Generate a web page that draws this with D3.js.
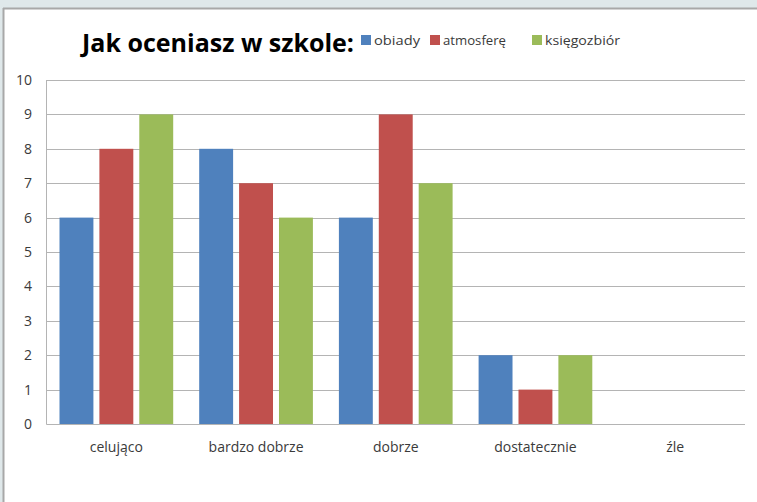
<!DOCTYPE html>
<html>
<head>
<meta charset="utf-8">
<script src="https://cdn.jsdelivr.net/npm/d3@7"></script>
<style>
  body { margin: 0; background: #dfe8ea; }
  svg { display: block; }
</style>
</head>
<body>
<div id="chartContainer"></div>
<script>
var width = 757, height = 502;

var categories = ["celująco", "bardzo dobrze", "dobrze", "dostatecznie", "źle"];
var seriesNames = ["obiady", "atmosferę", "księgozbiór"];
var obiady = [6, 8, 6, 2, 0];
var atmosfere = [8, 7, 9, 1, 0];
var ksiegozbior = [9, 6, 7, 2, 0];
var yTicks = [0, 1, 2, 3, 4, 5, 6, 7, 8, 9, 10];
var colors = ["#4f81bd", "#c0504d", "#9bbb59"];

var seriesValues = [obiady, atmosfere, ksiegozbior];

var svg = d3.select("#chartContainer").append("svg")
    .attr("width", width)
    .attr("height", height);

// frame like the slide panel
svg.append("rect").attr("x", 0).attr("y", 0).attr("width", width).attr("height", height).attr("fill", "#dfe8ea");
svg.append("rect").attr("x", 4).attr("y", 9).attr("width", width - 4).attr("height", height - 9).attr("fill", "#ffffff");
svg.append("line").attr("x1", 3.5).attr("x2", 3.5).attr("y1", 8).attr("y2", height).attr("stroke", "#a8a8a8").attr("stroke-width", 2);
svg.append("line").attr("x1", 3).attr("x2", width).attr("y1", 8.5).attr("y2", 8.5).attr("stroke", "#a8a8a8").attr("stroke-width", 2);

var plotLeft = 46.5, plotRight = 745, plotTop = 80, plotBottom = 424;

var x0 = d3.scaleBand().domain(categories).range([plotLeft, plotRight]).paddingInner(0).paddingOuter(0);
var x1 = d3.scaleBand().domain(seriesNames).range([13, x0.bandwidth() - 13]).paddingInner(0.15).paddingOuter(0);
var y = d3.scaleLinear().domain([0, 10]).range([plotBottom, plotTop]);

// gridlines
svg.append("g").selectAll("line")
    .data(yTicks)
    .enter().append("line")
    .attr("x1", plotLeft).attr("x2", plotRight)
    .attr("y1", function (d) { return Math.round(y(d)) + 0.5; })
    .attr("y2", function (d) { return Math.round(y(d)) + 0.5; })
    .attr("stroke", "#b4b4b4")
    .attr("stroke-width", 1);

// y axis line
svg.append("line").attr("x1", plotLeft).attr("x2", plotLeft).attr("y1", plotTop).attr("y2", plotBottom + 0.5)
    .attr("stroke", "#b4b4b4");

// bars
var groups = svg.append("g").selectAll("g")
    .data(categories)
    .enter().append("g")
    .attr("transform", function (d) { return "translate(" + x0(d) + ",0)"; });

groups.selectAll("rect")
    .data(function (d, i) {
        return seriesNames.map(function (s, j) { return { key: s, value: seriesValues[j][i], idx: j }; });
    })
    .enter().append("rect")
    .attr("x", function (d) { return x1(d.key); })
    .attr("width", x1.bandwidth())
    .attr("y", function (d) { return y(d.value); })
    .attr("height", function (d) { return y(0) - y(d.value); })
    .attr("fill", function (d) { return colors[d.idx]; });

// y tick labels
svg.append("g").selectAll("text")
    .data(yTicks)
    .enter().append("text")
    .attr("x", 32)
    .attr("y", function (d) { return y(d) + 5; })
    .attr("text-anchor", "end")
    .style("font-family", "'Open Sans', sans-serif")
    .style("font-size", "14px")
    .style("fill", "#3a3a3a")
    .text(function (d) { return d; });

// x labels
svg.append("g").selectAll("text")
    .data(categories)
    .enter().append("text")
    .attr("x", function (d) { return x0(d) + x0.bandwidth() / 2; })
    .attr("y", 452)
    .attr("text-anchor", "middle")
    .style("font-family", "'Open Sans', sans-serif")
    .style("font-size", "14px")
    .style("fill", "#3a3a3a")
    .text(function (d) { return d; });

// title
svg.append("text")
    .attr("x", 82)
    .attr("y", 52)
    .attr("textLength", 272)
    .attr("lengthAdjust", "spacingAndGlyphs")
    .style("font-family", "'Open Sans', sans-serif")
    .style("font-size", "25px")
    .style("font-weight", "bold")
    .style("fill", "#000")
    .text("Jak oceniasz w szkole:");

// legend
var legendX = [361, 430, 532];
var legendW = [46, 63, 75];
var legend = svg.append("g").selectAll("g")
    .data(seriesNames)
    .enter().append("g");
legend.append("rect")
    .attr("x", function (d, i) { return legendX[i]; })
    .attr("y", 35)
    .attr("width", 10).attr("height", 10)
    .attr("fill", function (d, i) { return colors[i]; });
legend.append("text")
    .attr("x", function (d, i) { return legendX[i] + 13; })
    .attr("y", 45)
    .attr("textLength", function (d, i) { return legendW[i]; })
    .attr("lengthAdjust", "spacingAndGlyphs")
    .style("font-family", "'Open Sans', sans-serif")
    .style("font-size", "13.5px")
    .style("fill", "#3a3a3a")
    .text(function (d) { return d; });
</script>
</body>
</html>
